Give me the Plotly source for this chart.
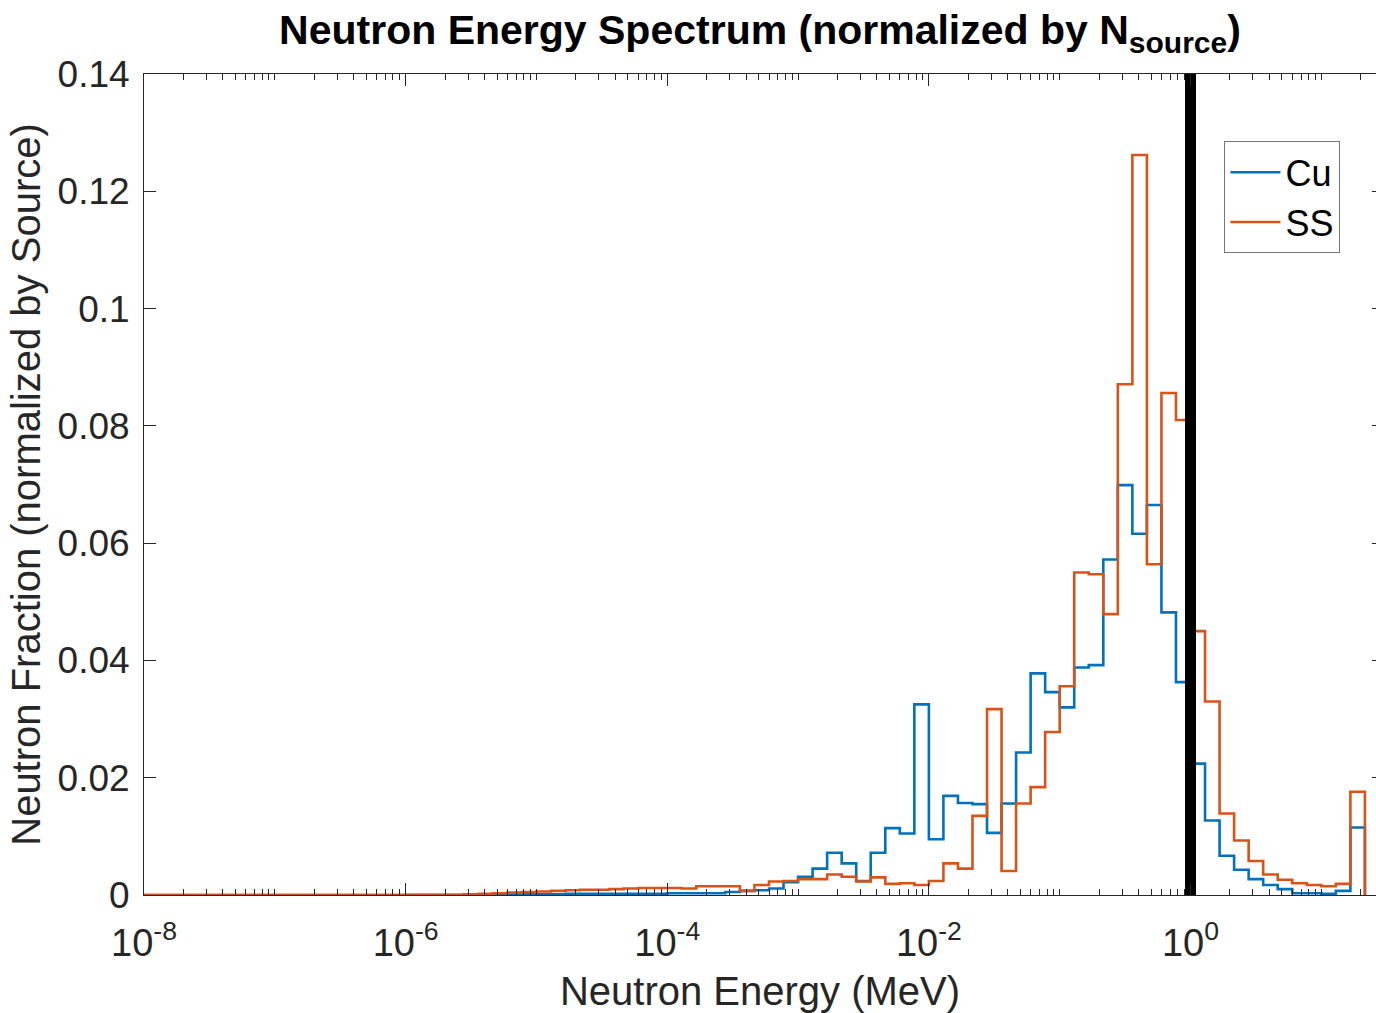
import numpy as np
import plotly.graph_objects as go

# ---- energy grid: 9 log-spaced bins per decade starting at 1e-8 MeV ----
bin_exponent_start = -8
bins_per_decade = 9
n_bins = 84
edges = 10 ** (bin_exponent_start + np.arange(n_bins + 1) / bins_per_decade)

# ---- series values (fraction per bin) ----
cu_values = (
    [0.0] * 18 + [0.00003] * 6 + [0.0001] * 5 + [0.0002] * 7 + [0.0003] * 4 +
    [0.0005, 0.0007, 0.0008, 0.0011, 0.0022, 0.0031, 0.0045, 0.0072, 0.0054, 0.0024,
     0.0072, 0.0114, 0.0105, 0.0325, 0.0095, 0.0169, 0.0157, 0.0155, 0.0106, 0.0156,
     0.0243, 0.0378, 0.0346, 0.0320, 0.0388, 0.0392, 0.0572, 0.0699, 0.0616, 0.0665,
     0.0482, 0.0363, 0.0224, 0.0127, 0.0067, 0.0043, 0.0027, 0.0017, 0.0010, 0.0003,
     0.0003, 0.0002, 0.0007, 0.0115]
)
ss_values = (
    [0.0] * 22 +
    [0.0001, 0.0002, 0.0003, 0.0004, 0.0005, 0.0006, 0.0007, 0.0008, 0.0009, 0.0009,
     0.0010, 0.0011, 0.0012, 0.0012, 0.0012, 0.0011, 0.0015, 0.0015, 0.0015, 0.0007,
     0.0017, 0.0023, 0.0024, 0.0027, 0.0027, 0.0035, 0.0031, 0.0023, 0.0030, 0.0019,
     0.0020, 0.0017, 0.0024, 0.0054, 0.0045, 0.0135, 0.0317, 0.0041, 0.0156, 0.0184,
     0.0278, 0.0356, 0.0550, 0.0547, 0.0479, 0.0871, 0.1262, 0.0564, 0.0856, 0.0810,
     0.0450, 0.0330, 0.0139, 0.0093, 0.0058, 0.0035, 0.0026, 0.0020, 0.0017, 0.0015,
     0.0019, 0.0176]
)
series_names = ["Cu", "SS"]
series_colors = ["#0072BD", "#D95319"]

marker_energy = [1.0, 1.0]
marker_span = [0.0, 0.14]

# ---- tick labels ----
y_tick_vals = [0, 0.02, 0.04, 0.06, 0.08, 0.10, 0.12, 0.14]
y_tick_text = ["0", "0.02", "0.04", "0.06", "0.08", "0.1", "0.12", "0.14"]
x_major_exponents = [-8, -6, -4, -2, 0]
x_tick_vals = [10.0 ** e for e in x_major_exponents]
x_tick_text = ["10<sup>%d</sup>" % e for e in x_major_exponents]
x_minor_vals = [k * 10.0 ** d for d in range(-8, 2) for k in range(1, 10)
                if not (k == 1 and d in x_major_exponents)]

FONT = "Liberation Sans, Arial, Helvetica, sans-serif"
AX = "#262626"

fig = go.Figure()
for name, color, vals in zip(series_names, series_colors, [cu_values, ss_values]):
    fig.add_trace(go.Scatter(
        x=edges, y=list(vals) + [0.0], mode="lines", name=name,
        line=dict(color=color, width=2.6, shape="hv"),
    ))

fig.add_trace(go.Scatter(
    x=marker_energy, y=marker_span, mode="lines", showlegend=False,
    line=dict(color="black", width=11),
))
# dummy trace for right-hand tick axis
fig.add_trace(go.Scatter(x=[None], y=[None], yaxis="y2", showlegend=False, hoverinfo="skip"))

fig.update_layout(
    width=1376, height=1013,
    margin=dict(l=144, r=0, t=74, b=118),
    paper_bgcolor="white", plot_bgcolor="white",
    font=dict(family=FONT, color=AX),
    title=dict(
        text="<b>Neutron Energy Spectrum (normalized by N<sub><span style='font-size:30px'>source</span></sub>)</b>",
        font=dict(family=FONT, size=41, color="black"),
        x=0.5, xref="paper", xanchor="center",
        y=1 - 30 / 1013, yref="container", yanchor="middle",
    ),
    xaxis=dict(
        type="log", range=[-8, 1.418],
        showline=True, linecolor=AX, linewidth=1, mirror="ticks",
        ticks="inside", ticklen=12, tickwidth=1, tickcolor=AX,
        tickmode="array", tickvals=x_tick_vals, ticktext=x_tick_text,
        minor=dict(tickmode="array", tickvals=x_minor_vals, ticks="inside",
                   ticklen=6, tickwidth=1, tickcolor=AX, showgrid=False),
        tickfont=dict(size=38, color=AX),
        ticklabelstandoff=14,
        showgrid=False, zeroline=False,
        title=dict(text="Neutron Energy (MeV)", font=dict(size=40, color=AX), standoff=14),
    ),
    yaxis=dict(
        range=[0, 0.14],
        showline=True, linecolor=AX, linewidth=1, mirror=False,
        ticks="inside", ticklen=12, tickwidth=1, tickcolor=AX,
        tickmode="array", tickvals=y_tick_vals, ticktext=y_tick_text,
        tickfont=dict(size=37, color=AX),
        ticklabelstandoff=6,
        showgrid=False, zeroline=False,
        title=dict(text="Neutron Fraction (normalized by Source)",
                   font=dict(size=40, color=AX), standoff=4),
    ),
    yaxis2=dict(
        overlaying="y", side="right", range=[0, 0.14],
        tickmode="array", tickvals=y_tick_vals, ticks="inside", ticklen=4,
        tickcolor=AX, showticklabels=False, showline=False,
        showgrid=False, zeroline=False,
    ),
    legend=dict(
        x=0.877, y=0.918, xanchor="left", yanchor="top",
        bgcolor="white", bordercolor="#777777", borderwidth=1,
        font=dict(size=36, color="black"),
        tracegroupgap=0, itemwidth=50,
    ),
    showlegend=True,
)

fig.write_html("out.html")
